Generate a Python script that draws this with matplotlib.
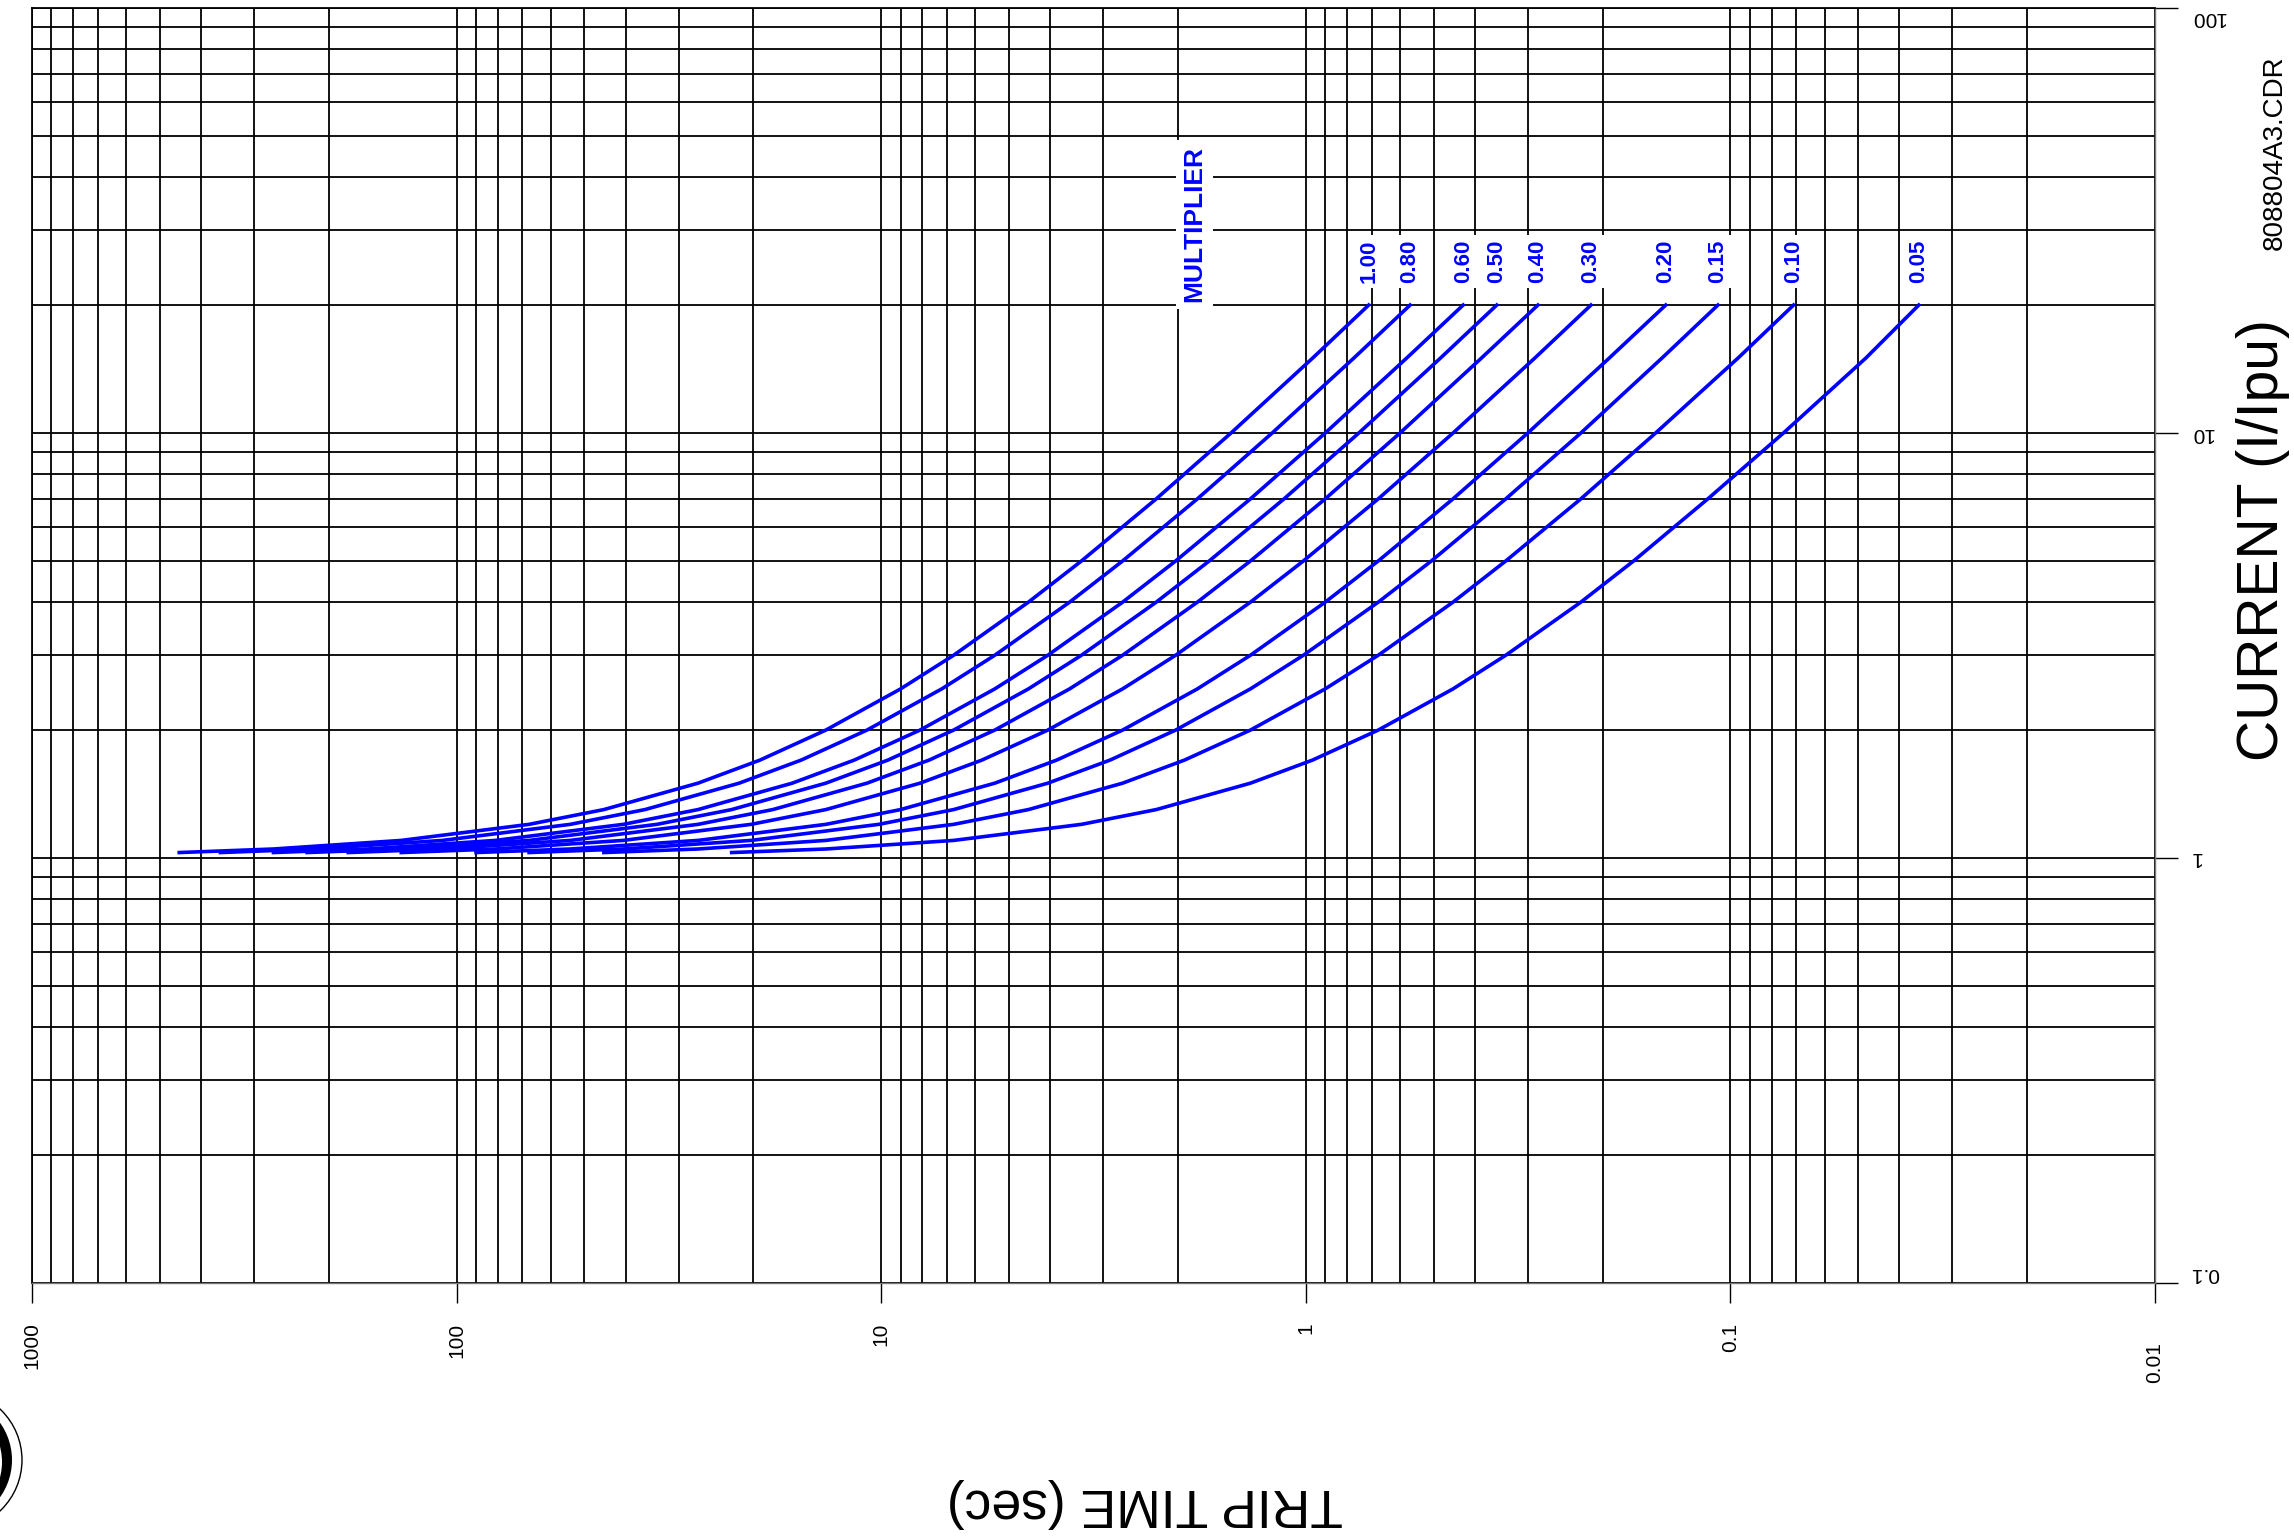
import matplotlib
matplotlib.use("Agg")
import matplotlib.pyplot as plt
from matplotlib.patches import Circle
from matplotlib.ticker import LogLocator, NullFormatter
from matplotlib.transforms import blended_transform_factory

plt.rcParams['font.family'] = ['Liberation Sans Narrow', 'Liberation Sans', 'DejaVu Sans']

# current points (I/Ipu) shared by every curve
current = [1.03, 1.05, 1.1, 1.2, 1.3, 1.5, 1.7, 2.0, 2.5, 3.0, 4.0, 5.0, 7.0, 10.0, 15.0, 20.0]

# trip time (sec) per multiplier
t_100 = [450, 270, 135, 67.5, 45, 27, 19.29, 13.5, 9.0, 6.75, 4.5, 3.375, 2.25, 1.5, 0.964, 0.711]
t_080 = [360, 216, 108, 54, 36, 21.6, 15.43, 10.8, 7.2, 5.4, 3.6, 2.7, 1.8, 1.2, 0.771, 0.568]
t_060 = [270, 162, 81, 40.5, 27, 16.2, 11.57, 8.1, 5.4, 4.05, 2.7, 2.025, 1.35, 0.9, 0.579, 0.426]
t_050 = [225, 135, 67.5, 33.75, 22.5, 13.5, 9.64, 6.75, 4.5, 3.375, 2.25, 1.688, 1.125, 0.75, 0.482, 0.355]
t_040 = [180, 108, 54, 27, 18, 10.8, 7.71, 5.4, 3.6, 2.7, 1.8, 1.35, 0.9, 0.6, 0.386, 0.284]
t_030 = [135, 81, 40.5, 20.25, 13.5, 8.1, 5.79, 4.05, 2.7, 2.025, 1.35, 1.013, 0.675, 0.45, 0.289, 0.213]
t_020 = [90, 54, 27, 13.5, 9.0, 5.4, 3.86, 2.7, 1.8, 1.35, 0.9, 0.675, 0.45, 0.3, 0.193, 0.142]
t_015 = [67.5, 40.5, 20.25, 10.13, 6.75, 4.05, 2.89, 2.025, 1.35, 1.013, 0.675, 0.506, 0.338, 0.225, 0.145, 0.107]
t_010 = [45, 27, 13.5, 6.75, 4.5, 2.7, 1.93, 1.35, 0.9, 0.675, 0.45, 0.338, 0.225, 0.15, 0.096, 0.071]
t_005 = [22.5, 13.5, 6.75, 3.375, 2.25, 1.35, 0.964, 0.675, 0.45, 0.338, 0.225, 0.169, 0.113, 0.075, 0.048, 0.036]

mult_labels = ['1.00', '0.80', '0.60', '0.50', '0.40', '0.30', '0.20', '0.15', '0.10', '0.05']
curves = [t_100, t_080, t_060, t_050, t_040, t_030, t_020, t_015, t_010, t_005]

time_ticks = [1000, 100, 10, 1, 0.1, 0.01]
time_tick_labels = ['1000', '100', '10', '1', '0.1', '0.01']
current_ticks = [0.1, 1, 10, 100]
current_tick_labels = ['0.1', '1', '10', '100']

BLUE = '#0000ff'

W, H = 2294, 1539
fig = plt.figure(figsize=(W / 100, H / 100), dpi=100)
ax = fig.add_axes([32 / W, 256 / H, 2123 / W, 1275 / H])

for t in curves:
    ax.plot(t, current, color=BLUE, lw=2.6, zorder=2)

ax.set_xscale('log')
ax.set_yscale('log')
ax.set_xlim(1000, 0.01)
ax.set_ylim(0.1, 100)
for axis in (ax.xaxis, ax.yaxis):
    axis.set_major_locator(LogLocator(base=10, numticks=20))
    axis.set_minor_locator(LogLocator(base=10, subs=range(2, 10), numticks=20))
    axis.set_minor_formatter(NullFormatter())

ax.grid(which='both', color='black', lw=1.3, zorder=1)
ax.tick_params(which='minor', length=0)
ax.tick_params(axis='x', which='major', direction='out', length=14.5, width=1,
               color='black', labelbottom=False)
ax.tick_params(axis='y', which='major', direction='out', length=16.5, width=1,
               color='black', left=False, right=True, labelleft=False, labelright=False)
for s in ('left', 'top'):
    ax.spines[s].set_color('black')
    ax.spines[s].set_linewidth(1.3)
for s in ('right', 'bottom'):
    ax.spines[s].set_color('#777777')
    ax.spines[s].set_linewidth(1.0)

# tick labels, drawn by hand so they can be turned like the original
xtr = blended_transform_factory(ax.transData, ax.transAxes)
for v, s in zip(time_ticks, time_tick_labels):
    yy = -0.046 if s == '0.01' else -0.031
    ax.text(v, yy, s, rotation=90, ha='center', va='top', fontsize=15, transform=xtr)

ytr = blended_transform_factory(ax.transAxes, ax.transData)
for v, s in zip(current_ticks, current_tick_labels):
    va = 'bottom' if v == current_ticks[0] else ('top' if v == current_ticks[-1] else 'center')
    ax.text(1.0165, v, s, rotation=180, ha='left', va=va, fontsize=15, transform=ytr)

# multiplier labels at the end of each curve
for lab, t in zip(mult_labels, curves):
    ax.text(t[-1], 25.3, lab, rotation=90, ha='center', va='center', color=BLUE,
            fontweight='bold', fontsize=16, zorder=3,
            bbox=dict(boxstyle='square,pad=0.22', fc='white', ec='none'))
ax.text(1.83, 31, 'MULTIPLIER', rotation=90, ha='center', va='center', color=BLUE,
        fontweight='bold', fontsize=19, zorder=3,
        bbox=dict(boxstyle='square,pad=0.25', fc='white', ec='none'))

fig.text(1145 / W, 1 - 1503 / H, 'TRIP TIME (sec)', rotation=180, ha='center',
         va='center', fontsize=38.5)
fig.text(2263 / W, 1 - 540 / H, 'CURRENT (I/Ipu)', rotation=90, ha='center',
         va='center', fontsize=41)
fig.text(2275 / W, 1 - 153 / H, '808804A3.CDR', rotation=90, ha='center',
         va='center', fontsize=20)

# bit of the logo cut off at the bottom-left corner
page = fig.add_axes([0, 0, 1, 1], zorder=-1)
page.set_xlim(0, W)
page.set_ylim(H, 0)
page.axis('off')
page.add_patch(Circle((-48, 1460), 70, fc='none', ec='black', lw=1.0))
page.add_patch(Circle((-52, 1460), 64, fc='black', ec='none'))
page.add_patch(Circle((-58, 1462), 60, fc='white', ec='none'))
page.add_patch(Circle((-62, 1462), 52, fc='none', ec='black', lw=1.0))

fig.savefig('out.png', dpi=100)
